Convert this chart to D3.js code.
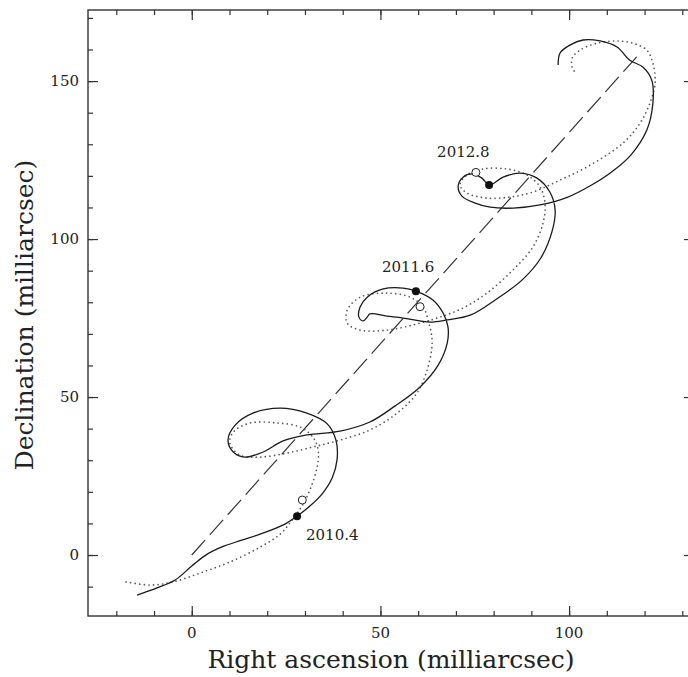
<!DOCTYPE html>
<html>
<head>
<meta charset="utf-8">
<script src="https://cdn.jsdelivr.net/npm/d3@7"></script>
<style>
  body { margin: 0; background: #fff; }
  svg { display: block; }
  text { font-family: "DejaVu Serif", serif; fill: #222; }
</style>
</head>
<body>
<script>
// right ascension / declination, milliarcsec
var solidTrack = [
  [-14.5,-12.7],[-9.2,-10.4],[-4.4,-7.9],[0,-3.5],[4.0,0.2],[8.5,2.8],[13.0,4.6],
  [18.1,6.6],[24.7,9.8],[27.9,12.3],[31.3,15.5],[34.5,19.3],[37.2,24.4],[38.5,30.1],
  [38.2,36.4],[35.9,41.5],[30.5,44.9],[23.4,46.5],[16.2,44.9],[11.5,41.1],[9.6,36.4],
  [11.0,32.6],[14.1,31.0],[18.9,32.6],[24.2,36.1],[30.5,38.0],[39.3,39.2],[47.2,42.1],
  [53.9,47.2],[60.5,53.2],[65.3,60.1],[67.7,67.1],[67.9,72.2],[66.6,76.6],[63.9,80.7],
  [59.4,83.5],[56.0,84.5],[50.7,84.2],[46.5,81.6],[44.6,78.5],[44.3,75.3],[45.4,74.1],
  [46.5,75.3],[47.2,76.3],[51.7,75.6],[56.0,75.0],[63.1,73.7],[67.7,74.4],[73.8,75.9],
  [80.5,80.8],[87.5,87.0],[92.5,94.0],[95.5,102.5],[96.3,109.2],[94.9,114.9],[91.5,119.3],
  [87.0,120.9],[82.5,119.6],[78.8,117.1],[76.9,119.3],[74.3,120.6],[71.9,119.6],[70.6,116.8],
  [71.6,113.6],[75.1,111.4],[79.1,110.1],[85.2,109.8],[92.3,110.8],[99.5,113.2],[105.5,116.8],
  [111.0,121.0],[116.3,126.5],[120.6,134.5],[122.2,143.0],[121.9,150.3],[119.6,154.4],
  [116.1,156.6],[112.7,160.8],[108.2,162.7],[103.7,163.0],[100.2,161.4],[97.6,158.9],[97.1,155.1]
];

var dottedTrack = [
  [-17.4,-8.5],[-11.0,-9.5],[-4.9,-8.5],[2.2,-5.7],[10.1,-2.2],[18.1,2.5],[23.4,6.6],
  [26.6,11.1],[29.2,15.5],[31.3,20.6],[33.2,27.8],[33.5,33.2],[32.1,37.3],[28.7,40.5],
  [22.6,41.8],[15.5,41.8],[11.0,38.9],[10.1,35.4],[12.8,31.6],[18.1,31.0],[25.3,32.3],
  [32.1,34.2],[39.3,36.4],[47.2,39.6],[54.4,44.9],[59.7,51.3],[62.6,59.5],[63.7,67.1],
  [63.1,72.2],[61.3,78.5],[57.9,81.6],[51.7,82.9],[44.6,81.6],[41.2,77.5],[41.2,73.4],
  [44.6,71.2],[51.7,71.2],[58.6,72.8],[65.0,75.0],[71.9,78.2],[78.2,82.9],[85.1,90.2],
  [90.4,97.5],[93.1,105.1],[93.6,111.4],[92.3,116.5],[88.8,120.3],[83.5,122.2],[77.2,122.2],
  [72.9,120.3],[71.1,117.1],[72.9,114.6],[78.2,113.0],[84.3,113.3],[90.4,114.9],[97.6,118.7],
  [104.7,122.8],[114.3,130.4],[118.8,136.7],[121.4,143.0],[122.8,149.4],[122.2,155.7],
  [120.6,159.8],[116.9,162.0],[112.7,162.7],[107.4,162.0],[102.9,159.8],[100.8,157.3],
  [100.8,154.4],[101.6,152.8]
];

var dashedLine = [[0, 0], [118.3, 158.2]];

var epochs = ["2010.4", "2011.6", "2012.8"];
var filledPoints = [[27.9, 12.3], [59.4, 83.5], [78.8, 117.1]];
var openPoints = [[29.3, 17.4], [60.5, 78.6], [75.3, 121.1]];

var xMajor = [0, 50, 100];
var xMinor = d3.range(-20, 131, 10);
var yMajor = [0, 50, 100, 150];
var yMinor = d3.range(-10, 171, 10);

var W = 688, H = 677;
var pl = 88, pt = 10, pr = 694, pb = 616;

var x = d3.scaleLinear().domain([-27.5, 133.1]).range([pl, pr]);
var y = d3.scaleLinear().domain([-19.3, 172.5]).range([pb, pt]);

var svg = d3.select("body").append("svg")
    .attr("width", W)
    .attr("height", H);

// frame
svg.append("rect")
    .attr("x", pl).attr("y", pt)
    .attr("width", pr - pl).attr("height", pb - pt)
    .attr("fill", "none").attr("stroke", "#333").attr("stroke-width", 1.4);

function ticks(axis, pos, vals, size) {
    var g = svg.append("g").attr("transform", pos)
        .call(axis.tickValues(vals).tickSize(size).tickFormat(""));
    g.select(".domain").remove();
    g.selectAll("line").attr("stroke", "#333").attr("stroke-width", 1.2);
}

ticks(d3.axisBottom(x), "translate(0," + pb + ")", xMinor, -5);
ticks(d3.axisBottom(x), "translate(0," + pb + ")", xMajor, -10);
ticks(d3.axisTop(x), "translate(0," + pt + ")", xMinor, -5);
ticks(d3.axisTop(x), "translate(0," + pt + ")", xMajor, -10);
ticks(d3.axisLeft(y), "translate(" + pl + ",0)", yMinor, -5);
ticks(d3.axisLeft(y), "translate(" + pl + ",0)", yMajor, -10);
ticks(d3.axisRight(y), "translate(" + pr + ",0)", yMinor, -5);
ticks(d3.axisRight(y), "translate(" + pr + ",0)", yMajor, -10);

// tick labels
svg.selectAll(".xl").data(xMajor).enter().append("text")
    .attr("x", function(d) { return x(d); })
    .attr("y", pb + 22)
    .attr("text-anchor", "middle")
    .attr("font-size", 15)
    .text(function(d) { return d; });

svg.selectAll(".yl").data(yMajor).enter().append("text")
    .attr("x", pl - 9)
    .attr("y", function(d) { return y(d) + 5; })
    .attr("text-anchor", "end")
    .attr("font-size", 15)
    .text(function(d) { return d; });

svg.append("text")
    .attr("x", 391)
    .attr("y", 668)
    .attr("text-anchor", "middle")
    .attr("font-size", 25)
    .text("Right ascension (milliarcsec)");

svg.append("text")
    .attr("transform", "translate(33,315) rotate(-90)")
    .attr("text-anchor", "middle")
    .attr("font-size", 25)
    .text("Declination (milliarcsec)");

var line = d3.line()
    .x(function(d) { return x(d[0]); })
    .y(function(d) { return y(d[1]); })
    .curve(d3.curveCatmullRom.alpha(0.5));

svg.append("path")
    .attr("d", d3.line().x(function(d) { return x(d[0]); }).y(function(d) { return y(d[1]); })(dashedLine))
    .attr("fill", "none").attr("stroke", "#333").attr("stroke-width", 1.2)
    .attr("stroke-dasharray", "20 7");

svg.append("path")
    .attr("d", line(dottedTrack))
    .attr("fill", "none").attr("stroke", "#555").attr("stroke-width", 1.7)
    .attr("stroke-linecap", "round")
    .attr("stroke-dasharray", "0 4.6");

svg.append("path")
    .attr("d", line(solidTrack))
    .attr("fill", "none").attr("stroke", "#1a1a1a").attr("stroke-width", 1.3);

svg.selectAll(".open").data(openPoints).enter().append("circle")
    .attr("cx", function(d) { return x(d[0]); })
    .attr("cy", function(d) { return y(d[1]); })
    .attr("r", 4)
    .attr("fill", "#fff").attr("stroke", "#222").attr("stroke-width", 1);

svg.selectAll(".filled").data(filledPoints).enter().append("circle")
    .attr("cx", function(d) { return x(d[0]); })
    .attr("cy", function(d) { return y(d[1]); })
    .attr("r", 4)
    .attr("fill", "#111");

// label offsets from the filled dots, px
var labelOffset = [[9, 24], [-34, -19], [-52, -28]];
svg.selectAll(".ep").data(epochs).enter().append("text")
    .attr("x", function(d, i) { return x(filledPoints[i][0]) + labelOffset[i][0]; })
    .attr("y", function(d, i) { return y(filledPoints[i][1]) + labelOffset[i][1]; })
    .attr("font-size", 15)
    .text(function(d) { return d; });
</script>
</body>
</html>
